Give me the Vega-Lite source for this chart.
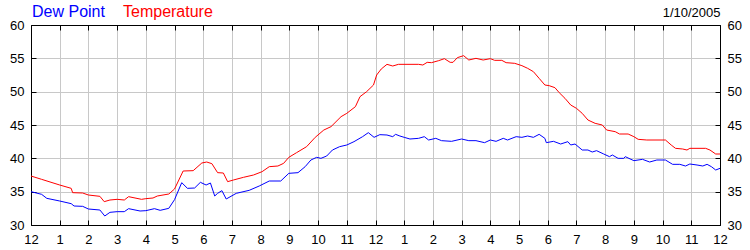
{
  "$schema": "https://vega.github.io/schema/vega-lite/v6.json",
  "width": 689,
  "height": 200,
  "autosize": {"type": "none"},
  "padding": {"left": 31, "top": 25, "right": 30, "bottom": 25},
  "background": "white",
  "config": {
    "view": {"stroke": null},
    "font": "Liberation Sans",
    "axis": {
      "domainColor": "black",
      "domainWidth": 1,
      "tickColor": "black",
      "tickSize": -5,
      "labelColor": "black",
      "labelFont": "Liberation Sans",
      "labelFontSize": 13,
      "labelFlush": false,
      "labelOverlap": false,
      "gridColor": "#c8c8c8",
      "gridWidth": 1,
      "title": null
    }
  },
  "datasets": {
    "weather": [
      {"hour": 0, "series": "Dew Point", "value": 35.0},
      {"hour": 0.37, "series": "Dew Point", "value": 34.6},
      {"hour": 0.55, "series": "Dew Point", "value": 34.0},
      {"hour": 1.0, "series": "Dew Point", "value": 33.6},
      {"hour": 1.4, "series": "Dew Point", "value": 33.2},
      {"hour": 1.5, "series": "Dew Point", "value": 32.85},
      {"hour": 1.8, "series": "Dew Point", "value": 32.8},
      {"hour": 2.0, "series": "Dew Point", "value": 32.4},
      {"hour": 2.4, "series": "Dew Point", "value": 32.25},
      {"hour": 2.57, "series": "Dew Point", "value": 31.35},
      {"hour": 2.75, "series": "Dew Point", "value": 31.9},
      {"hour": 3.0, "series": "Dew Point", "value": 32.0},
      {"hour": 3.25, "series": "Dew Point", "value": 32.0},
      {"hour": 3.4, "series": "Dew Point", "value": 32.45},
      {"hour": 3.8, "series": "Dew Point", "value": 32.1},
      {"hour": 4.0, "series": "Dew Point", "value": 32.15},
      {"hour": 4.3, "series": "Dew Point", "value": 32.45},
      {"hour": 4.5, "series": "Dew Point", "value": 32.2},
      {"hour": 4.8, "series": "Dew Point", "value": 32.5},
      {"hour": 5.0, "series": "Dew Point", "value": 33.8},
      {"hour": 5.25, "series": "Dew Point", "value": 36.35},
      {"hour": 5.45, "series": "Dew Point", "value": 35.5},
      {"hour": 5.7, "series": "Dew Point", "value": 35.55},
      {"hour": 5.9, "series": "Dew Point", "value": 36.4},
      {"hour": 6.1, "series": "Dew Point", "value": 36.0},
      {"hour": 6.25, "series": "Dew Point", "value": 36.3},
      {"hour": 6.4, "series": "Dew Point", "value": 34.35},
      {"hour": 6.5, "series": "Dew Point", "value": 34.75},
      {"hour": 6.65, "series": "Dew Point", "value": 35.15},
      {"hour": 6.8, "series": "Dew Point", "value": 33.9},
      {"hour": 7.15, "series": "Dew Point", "value": 34.75},
      {"hour": 7.6, "series": "Dew Point", "value": 35.2},
      {"hour": 7.95, "series": "Dew Point", "value": 35.85},
      {"hour": 8.3, "series": "Dew Point", "value": 36.6},
      {"hour": 8.7, "series": "Dew Point", "value": 36.6},
      {"hour": 8.98, "series": "Dew Point", "value": 37.75},
      {"hour": 9.3, "series": "Dew Point", "value": 37.85},
      {"hour": 9.55, "series": "Dew Point", "value": 38.75},
      {"hour": 9.75, "series": "Dew Point", "value": 39.75},
      {"hour": 9.95, "series": "Dew Point", "value": 40.15},
      {"hour": 10.1, "series": "Dew Point", "value": 40.0},
      {"hour": 10.3, "series": "Dew Point", "value": 40.35},
      {"hour": 10.5, "series": "Dew Point", "value": 41.25},
      {"hour": 10.75, "series": "Dew Point", "value": 41.75},
      {"hour": 11.0, "series": "Dew Point", "value": 42.0},
      {"hour": 11.25, "series": "Dew Point", "value": 42.5},
      {"hour": 11.55, "series": "Dew Point", "value": 43.25},
      {"hour": 11.75, "series": "Dew Point", "value": 43.85},
      {"hour": 11.95, "series": "Dew Point", "value": 43.15},
      {"hour": 12.15, "series": "Dew Point", "value": 43.55},
      {"hour": 12.4, "series": "Dew Point", "value": 43.5},
      {"hour": 12.6, "series": "Dew Point", "value": 43.25},
      {"hour": 12.7, "series": "Dew Point", "value": 43.6},
      {"hour": 12.85, "series": "Dew Point", "value": 43.35},
      {"hour": 13.0, "series": "Dew Point", "value": 43.15},
      {"hour": 13.2, "series": "Dew Point", "value": 42.9},
      {"hour": 13.5, "series": "Dew Point", "value": 43.0},
      {"hour": 13.7, "series": "Dew Point", "value": 43.25},
      {"hour": 13.85, "series": "Dew Point", "value": 42.75},
      {"hour": 14.1, "series": "Dew Point", "value": 43.0},
      {"hour": 14.3, "series": "Dew Point", "value": 42.65},
      {"hour": 14.65, "series": "Dew Point", "value": 42.55},
      {"hour": 15.0, "series": "Dew Point", "value": 42.9},
      {"hour": 15.25, "series": "Dew Point", "value": 42.65},
      {"hour": 15.5, "series": "Dew Point", "value": 42.65},
      {"hour": 15.8, "series": "Dew Point", "value": 42.35},
      {"hour": 16.0, "series": "Dew Point", "value": 42.75},
      {"hour": 16.2, "series": "Dew Point", "value": 42.55},
      {"hour": 16.45, "series": "Dew Point", "value": 43.0},
      {"hour": 16.6, "series": "Dew Point", "value": 42.75},
      {"hour": 16.9, "series": "Dew Point", "value": 43.25},
      {"hour": 17.1, "series": "Dew Point", "value": 43.15},
      {"hour": 17.3, "series": "Dew Point", "value": 43.35},
      {"hour": 17.5, "series": "Dew Point", "value": 43.15},
      {"hour": 17.7, "series": "Dew Point", "value": 43.6},
      {"hour": 17.9, "series": "Dew Point", "value": 43.0},
      {"hour": 17.95, "series": "Dew Point", "value": 42.35},
      {"hour": 18.2, "series": "Dew Point", "value": 42.55},
      {"hour": 18.45, "series": "Dew Point", "value": 42.15},
      {"hour": 18.7, "series": "Dew Point", "value": 42.5},
      {"hour": 18.8, "series": "Dew Point", "value": 42.0},
      {"hour": 18.95, "series": "Dew Point", "value": 42.15},
      {"hour": 19.2, "series": "Dew Point", "value": 41.25},
      {"hour": 19.4, "series": "Dew Point", "value": 41.25},
      {"hour": 19.55, "series": "Dew Point", "value": 40.95},
      {"hour": 19.7, "series": "Dew Point", "value": 41.15},
      {"hour": 19.95, "series": "Dew Point", "value": 40.65},
      {"hour": 20.15, "series": "Dew Point", "value": 40.25},
      {"hour": 20.25, "series": "Dew Point", "value": 40.5},
      {"hour": 20.45, "series": "Dew Point", "value": 40.0},
      {"hour": 20.65, "series": "Dew Point", "value": 40.0},
      {"hour": 20.7, "series": "Dew Point", "value": 40.25},
      {"hour": 21.0, "series": "Dew Point", "value": 39.65},
      {"hour": 21.3, "series": "Dew Point", "value": 39.85},
      {"hour": 21.55, "series": "Dew Point", "value": 39.45},
      {"hour": 21.8, "series": "Dew Point", "value": 39.75},
      {"hour": 22.1, "series": "Dew Point", "value": 39.75},
      {"hour": 22.35, "series": "Dew Point", "value": 39.1},
      {"hour": 22.6, "series": "Dew Point", "value": 39.1},
      {"hour": 22.8, "series": "Dew Point", "value": 38.85},
      {"hour": 22.95, "series": "Dew Point", "value": 39.15},
      {"hour": 23.2, "series": "Dew Point", "value": 39.0},
      {"hour": 23.4, "series": "Dew Point", "value": 38.85},
      {"hour": 23.55, "series": "Dew Point", "value": 39.1},
      {"hour": 23.7, "series": "Dew Point", "value": 38.75},
      {"hour": 23.85, "series": "Dew Point", "value": 38.25},
      {"hour": 24.0, "series": "Dew Point", "value": 38.5},
      {"hour": 0, "series": "Temperature", "value": 37.35},
      {"hour": 0.37, "series": "Temperature", "value": 36.85},
      {"hour": 1.0, "series": "Temperature", "value": 36.0},
      {"hour": 1.4, "series": "Temperature", "value": 35.5},
      {"hour": 1.45, "series": "Temperature", "value": 34.85},
      {"hour": 1.8, "series": "Temperature", "value": 34.8},
      {"hour": 2.0, "series": "Temperature", "value": 34.5},
      {"hour": 2.4, "series": "Temperature", "value": 34.3},
      {"hour": 2.55, "series": "Temperature", "value": 33.5},
      {"hour": 2.75, "series": "Temperature", "value": 33.75},
      {"hour": 3.0, "series": "Temperature", "value": 33.85},
      {"hour": 3.25, "series": "Temperature", "value": 33.75},
      {"hour": 3.4, "series": "Temperature", "value": 34.25},
      {"hour": 3.85, "series": "Temperature", "value": 33.85},
      {"hour": 4.0, "series": "Temperature", "value": 33.95},
      {"hour": 4.25, "series": "Temperature", "value": 34.05},
      {"hour": 4.4, "series": "Temperature", "value": 34.35},
      {"hour": 4.8, "series": "Temperature", "value": 34.65},
      {"hour": 5.0, "series": "Temperature", "value": 35.4},
      {"hour": 5.3, "series": "Temperature", "value": 38.1},
      {"hour": 5.65, "series": "Temperature", "value": 38.15},
      {"hour": 5.95, "series": "Temperature", "value": 39.3},
      {"hour": 6.12, "series": "Temperature", "value": 39.45},
      {"hour": 6.3, "series": "Temperature", "value": 39.2},
      {"hour": 6.5, "series": "Temperature", "value": 37.85},
      {"hour": 6.7, "series": "Temperature", "value": 37.8},
      {"hour": 6.85, "series": "Temperature", "value": 36.5},
      {"hour": 7.05, "series": "Temperature", "value": 36.75},
      {"hour": 7.4, "series": "Temperature", "value": 37.15},
      {"hour": 7.75, "series": "Temperature", "value": 37.5},
      {"hour": 8.05, "series": "Temperature", "value": 38.0},
      {"hour": 8.3, "series": "Temperature", "value": 38.75},
      {"hour": 8.6, "series": "Temperature", "value": 38.85},
      {"hour": 8.8, "series": "Temperature", "value": 39.25},
      {"hour": 8.98, "series": "Temperature", "value": 40.15},
      {"hour": 9.25, "series": "Temperature", "value": 40.85},
      {"hour": 9.6, "series": "Temperature", "value": 41.75},
      {"hour": 9.9, "series": "Temperature", "value": 43.15},
      {"hour": 10.2, "series": "Temperature", "value": 44.25},
      {"hour": 10.45, "series": "Temperature", "value": 44.75},
      {"hour": 10.8, "series": "Temperature", "value": 46.25},
      {"hour": 11.0, "series": "Temperature", "value": 46.75},
      {"hour": 11.3, "series": "Temperature", "value": 47.75},
      {"hour": 11.46, "series": "Temperature", "value": 49.25},
      {"hour": 11.69, "series": "Temperature", "value": 50.0},
      {"hour": 11.93, "series": "Temperature", "value": 51.0},
      {"hour": 12.04, "series": "Temperature", "value": 52.5},
      {"hour": 12.2, "series": "Temperature", "value": 53.4},
      {"hour": 12.4, "series": "Temperature", "value": 54.1},
      {"hour": 12.6, "series": "Temperature", "value": 53.85},
      {"hour": 12.8, "series": "Temperature", "value": 54.1},
      {"hour": 13.5, "series": "Temperature", "value": 54.1},
      {"hour": 13.65, "series": "Temperature", "value": 54.0},
      {"hour": 13.8, "series": "Temperature", "value": 54.4},
      {"hour": 13.95, "series": "Temperature", "value": 54.35},
      {"hour": 14.2, "series": "Temperature", "value": 54.65},
      {"hour": 14.4, "series": "Temperature", "value": 54.95},
      {"hour": 14.6, "series": "Temperature", "value": 54.4},
      {"hour": 14.7, "series": "Temperature", "value": 54.4},
      {"hour": 14.85, "series": "Temperature", "value": 55.1},
      {"hour": 15.07, "series": "Temperature", "value": 55.4},
      {"hour": 15.25, "series": "Temperature", "value": 54.75},
      {"hour": 15.5, "series": "Temperature", "value": 55.0},
      {"hour": 15.75, "series": "Temperature", "value": 54.75},
      {"hour": 16.0, "series": "Temperature", "value": 54.95},
      {"hour": 16.15, "series": "Temperature", "value": 54.7},
      {"hour": 16.4, "series": "Temperature", "value": 54.7},
      {"hour": 16.55, "series": "Temperature", "value": 54.35},
      {"hour": 16.85, "series": "Temperature", "value": 54.25},
      {"hour": 17.1, "series": "Temperature", "value": 53.9},
      {"hour": 17.3, "series": "Temperature", "value": 53.5},
      {"hour": 17.5, "series": "Temperature", "value": 53.0},
      {"hour": 17.7, "series": "Temperature", "value": 52.0},
      {"hour": 17.9, "series": "Temperature", "value": 51.0},
      {"hour": 18.05, "series": "Temperature", "value": 50.9},
      {"hour": 18.25, "series": "Temperature", "value": 50.6},
      {"hour": 18.4, "series": "Temperature", "value": 49.85},
      {"hour": 18.6, "series": "Temperature", "value": 49.0},
      {"hour": 18.8, "series": "Temperature", "value": 48.0},
      {"hour": 19.0, "series": "Temperature", "value": 47.5},
      {"hour": 19.2, "series": "Temperature", "value": 46.75},
      {"hour": 19.4, "series": "Temperature", "value": 45.75},
      {"hour": 19.65, "series": "Temperature", "value": 45.25},
      {"hour": 19.9, "series": "Temperature", "value": 45.0},
      {"hour": 20.05, "series": "Temperature", "value": 44.25},
      {"hour": 20.35, "series": "Temperature", "value": 44.0},
      {"hour": 20.5, "series": "Temperature", "value": 43.65},
      {"hour": 20.8, "series": "Temperature", "value": 43.65},
      {"hour": 21.0, "series": "Temperature", "value": 43.25},
      {"hour": 21.15, "series": "Temperature", "value": 42.85},
      {"hour": 21.45, "series": "Temperature", "value": 42.75},
      {"hour": 22.1, "series": "Temperature", "value": 42.75},
      {"hour": 22.3, "series": "Temperature", "value": 42.0},
      {"hour": 22.45, "series": "Temperature", "value": 41.5},
      {"hour": 22.7, "series": "Temperature", "value": 41.4},
      {"hour": 22.85, "series": "Temperature", "value": 41.25},
      {"hour": 22.95, "series": "Temperature", "value": 41.5},
      {"hour": 23.5, "series": "Temperature", "value": 41.5},
      {"hour": 23.65, "series": "Temperature", "value": 41.25},
      {"hour": 23.85, "series": "Temperature", "value": 40.65},
      {"hour": 24.0, "series": "Temperature", "value": 40.65}
    ]
  },
  "data": {"name": "weather"},
  "layer": [
    {
      "transform": [{"filter": "datum.series === 'Dew Point'"}],
      "mark": {"type": "line", "strokeWidth": 1},
      "encoding": {
        "x": {
          "field": "hour", "type": "quantitative",
          "scale": {"domain": [0, 24], "nice": false, "zero": false},
          "axis": {
            "orient": "bottom",
            "values": [0,1,2,3,4,5,6,7,8,9,10,11,12,13,14,15,16,17,18,19,20,21,22,23,24],
            "labelExpr": "datum.value % 12 == 0 ? '12' : '' + (datum.value % 12)",
            "grid": true,
            "labelPadding": 13
          }
        },
        "y": {
          "field": "value", "type": "quantitative",
          "scale": {"domain": [30, 60], "nice": false, "zero": false},
          "axis": {
            "orient": "left",
            "values": [30, 35, 40, 45, 50, 55, 60],
            "grid": true,
            "labelPadding": 12
          }
        },
        "color": {
          "field": "series", "type": "nominal",
          "scale": {"domain": ["Dew Point", "Temperature"], "range": ["#0000ff", "#ff0000"]},
          "legend": {
            "orient": "none", "legendX": -15, "legendY": -21,
            "direction": "horizontal", "title": null,
            "symbolSize": 0, "symbolOpacity": 0, "symbolStrokeWidth": 0,
            "labelOffset": 0, "columnPadding": 2,
            "labelFontSize": 16, "labelFont": "Liberation Sans", "labelLimit": 0,
            "encode": {"labels": {"update": {"fill": {"signal": "scale('color', datum.value)"}}}}
          }
        }
      }
    },
    {
      "transform": [{"filter": "datum.series === 'Temperature'"}],
      "mark": {"type": "line", "strokeWidth": 1},
      "encoding": {
        "x": {
          "field": "hour", "type": "quantitative",
          "scale": {"domain": [0, 24], "nice": false, "zero": false},
          "axis": {
            "orient": "top",
            "values": [0,1,2,3,4,5,6,7,8,9,10,11,12,13,14,15,16,17,18,19,20,21,22,23,24],
            "labels": false,
            "grid": false,
            "title": "1/10/2005",
            "titleAnchor": "end",
            "titleAlign": "right",
            "titleFont": "Liberation Sans",
            "titleFontSize": 13,
            "titleFontWeight": "normal",
            "titleColor": "black",
            "titleBaseline": "alphabetic",
            "titlePadding": 8
          }
        },
        "y": {
          "field": "value", "type": "quantitative",
          "scale": {"domain": [30, 60], "nice": false, "zero": false},
          "axis": {
            "orient": "right",
            "values": [30, 35, 40, 45, 50, 55, 60],
            "grid": false,
            "labelPadding": 12
          }
        },
        "color": {
          "field": "series", "type": "nominal",
          "scale": {"domain": ["Dew Point", "Temperature"], "range": ["#0000ff", "#ff0000"]},
          "legend": {
            "orient": "none", "legendX": -15, "legendY": -21,
            "direction": "horizontal", "title": null,
            "symbolSize": 0, "symbolOpacity": 0, "symbolStrokeWidth": 0,
            "labelOffset": 0, "columnPadding": 2,
            "labelFontSize": 16, "labelFont": "Liberation Sans", "labelLimit": 0,
            "encode": {"labels": {"update": {"fill": {"signal": "scale('color', datum.value)"}}}}
          }
        }
      }
    }
  ],
  "resolve": {"axis": {"x": "independent", "y": "independent"}}
}
